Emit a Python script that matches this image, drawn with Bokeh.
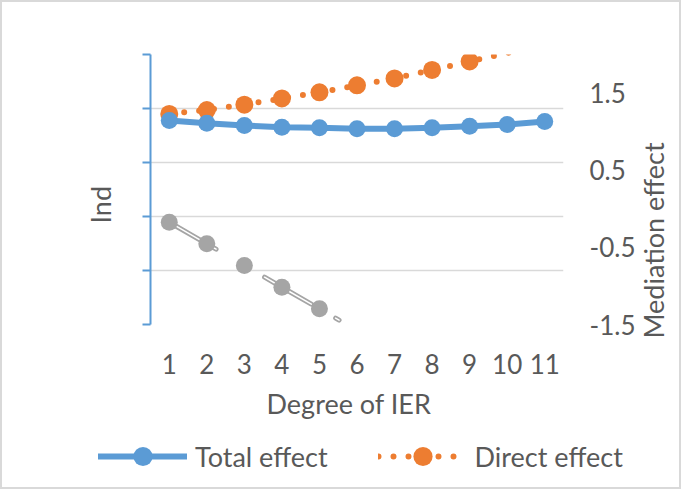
from math import pi
from bokeh.plotting import figure
from bokeh.layouts import column, row
from bokeh.models import (Range1d, LinearAxis, FixedTicker, Legend, LegendItem,
                          Title, ColumnDataSource, Grid)
from bokeh.core.properties import value
from bokeh.embed import file_html
from bokeh.resources import INLINE

# ---- data ----
degree = [1, 2, 3, 4, 5, 6, 7, 8, 9, 10, 11]
total_effect = [1.145, 1.11, 1.08, 1.058, 1.05, 1.037, 1.037, 1.05, 1.07, 1.093, 1.13]
direct_effect = [1.23, 1.28, 1.35, 1.43, 1.51, 1.60, 1.69, 1.80, 1.91, 2.02, 2.13]
ind_degree = [1, 2, 3, 4, 5, 6]
ind_values = [1.894, 1.494, 1.093, 0.69, 0.29, -0.11]

med_ticks = [-1.5, -0.5, 0.5, 1.5]
med_tick_labels = ["-1.5", "-0.5", "0.5", "1.5"]
ind_ticks = [0, 1, 2, 3, 4, 5]

MED_MIN, MED_MAX = -1.5, 2.0
IND_MIN, IND_MAX = 0, 5

BLUE = "#5B9BD5"
ORANGE = "#ED7D31"
GRAY = "#A5A5A5"
TXT = "#595959"
FONT = "Lato"
FS = "26px"
TFS = "27px"
BORDER = "2px solid #d9d9d9"
GRAY_DASH = "54 28 4 24"


def no_align(fig):
    try:
        fig.frame_align = False
    except Exception:
        pass


p = figure(width=636, height=430, output_backend="svg", toolbar_location=None,
           x_range=Range1d(0.5, 11.5), y_range=Range1d(IND_MIN, IND_MAX),
           min_border_left=148, min_border_right=73, min_border_top=52,
           min_border_bottom=108, x_axis_location=None, y_axis_location=None)
no_align(p)
p.styles = {"border-top": BORDER, "border-left": BORDER}
p.outline_line_color = None
p.background_fill_color = "white"
p.border_fill_color = "white"
p.extra_y_ranges = {"med": Range1d(MED_MIN, MED_MAX)}

# left (Ind) axis: line and ticks only
lax = LinearAxis(ticker=FixedTicker(ticks=ind_ticks))
lax.axis_line_color = BLUE
lax.axis_line_width = 2
lax.major_tick_line_color = BLUE
lax.major_tick_line_width = 2
lax.major_tick_out = 8
lax.major_tick_in = 0
lax.minor_tick_line_color = None
lax.major_label_overrides = {t: "" for t in ind_ticks}
lax.major_label_text_color = None
lax.major_label_standoff = 0
p.add_layout(lax, "left")
p.add_layout(Title(text="Ind", align="left", offset=101, standoff=52,
                   text_font=FONT, text_font_size=TFS, text_font_style="normal",
                   text_color=TXT), "left")

# right (mediation) axis: tick labels
rax = LinearAxis(y_range_name="med", ticker=FixedTicker(ticks=med_ticks))
rax.axis_line_color = None
rax.major_tick_line_color = None
rax.minor_tick_line_color = None
rax.major_tick_out = 0
rax.major_tick_in = 0
rax.major_label_standoff = 26
rax.major_label_overrides = dict(zip(med_ticks, med_tick_labels))
rax.major_label_text_font = FONT
rax.major_label_text_font_size = FS
rax.major_label_text_color = TXT
p.add_layout(rax, "right")

# bottom axis
bax = LinearAxis(ticker=FixedTicker(ticks=degree))
bax.axis_line_color = None
bax.major_tick_line_color = None
bax.minor_tick_line_color = None
bax.major_tick_out = 0
bax.major_tick_in = 0
bax.major_label_standoff = 29
bax.major_label_text_font = FONT
bax.major_label_text_font_size = FS
bax.major_label_text_color = TXT
p.add_layout(bax, "below")
p.add_layout(Title(text="Degree of IER", align="left", offset=116, standoff=16,
                   text_font=FONT, text_font_size=TFS, text_font_style="normal",
                   text_color=TXT), "below")

p.xgrid.grid_line_color = None
p.ygrid.grid_line_color = None
p.add_layout(Grid(dimension=1, ticker=FixedTicker(ticks=ind_ticks),
                  grid_line_color="#D9D9D9", grid_line_width=1.5))

# gray (Ind) series: double dash-dot line
ind_src = ColumnDataSource(dict(x=ind_degree, y=ind_values))
p.line("x", "y", source=ind_src, line_color=GRAY, line_width=5,
       line_dash=GRAY_DASH, line_cap="round", line_join="round")
p.line("x", "y", source=ind_src, line_color="white", line_width=1.5,
       line_dash=GRAY_DASH, line_cap="round", line_join="round")
ind_in = [(x, y) for x, y in zip(ind_degree, ind_values) if IND_MIN <= y <= IND_MAX]
p.scatter([a for a, _ in ind_in], [b for _, b in ind_in], size=17,
          fill_color=GRAY, line_color=None)

# direct effect (orange dotted)
DIR_STYLE = dict(line_color=ORANGE, line_width=6, line_dash="0 15", line_cap="round")
p.line(degree, direct_effect, y_range_name="med", **DIR_STYLE)
dir_in = [(x, y) for x, y in zip(degree, direct_effect) if MED_MIN <= y <= MED_MAX]
p.scatter([a for a, _ in dir_in], [b for _, b in dir_in], y_range_name="med",
          size=18, fill_color=ORANGE, line_color=None)

# total effect (blue solid)
TOT_STYLE = dict(line_color=BLUE, line_width=6, line_join="round", line_cap="round")
p.line(degree, total_effect, y_range_name="med", **TOT_STYLE)
p.scatter(degree, total_effect, y_range_name="med", size=17,
          fill_color=BLUE, line_color=None)

# ---- right strip: secondary axis title ----
rf = figure(width=45, height=430, output_backend="svg", toolbar_location=None,
            x_range=Range1d(0, 45), y_range=Range1d(430, 0),
            x_axis_location=None, y_axis_location=None, min_border=0,
            min_border_left=0, min_border_right=0, min_border_top=0,
            min_border_bottom=0)
no_align(rf)
rf.styles = {"border-top": BORDER, "border-right": BORDER}
rf.outline_line_color = None
rf.xgrid.grid_line_color = None
rf.ygrid.grid_line_color = None
rf.text(x=[17], y=[238], text=["Mediation effect"], angle=pi / 2,
        text_align="center", text_baseline="middle", text_font=value(FONT),
        text_font_size=TFS, text_color=TXT)

# ---- legend strip ----
lf = figure(width=681, height=59, output_backend="svg", toolbar_location=None,
            x_range=Range1d(0, 1), y_range=Range1d(0, 1),
            x_axis_location=None, y_axis_location=None, min_border=0,
            min_border_left=0, min_border_right=0, min_border_top=0,
            min_border_bottom=0)
no_align(lf)
lf.styles = {"border-bottom": BORDER, "border-left": BORDER, "border-right": BORDER}
lf.outline_line_color = None
lf.xgrid.grid_line_color = None
lf.ygrid.grid_line_color = None
lt_line = lf.line(degree, total_effect, visible=False, **TOT_STYLE)
lt_sc = lf.scatter(degree, total_effect, visible=False, fill_color=BLUE, line_color=None)
ld_line = lf.line(degree, direct_effect, visible=False, **DIR_STYLE)
ld_sc = lf.scatter(degree, direct_effect, visible=False, fill_color=ORANGE, line_color=None)
legend = Legend(items=[LegendItem(label="Total effect", renderers=[lt_line, lt_sc]),
                       LegendItem(label="Direct effect", renderers=[ld_line, ld_sc])],
                location=(96, 9), orientation="horizontal")
legend.glyph_width = 89
legend.glyph_height = 48
legend.label_standoff = 8
legend.spacing = 50
legend.padding = 0
legend.margin = 0
legend.border_line_color = None
legend.background_fill_alpha = 0
legend.inactive_fill_alpha = 0
legend.label_text_font = FONT
legend.label_text_font_size = TFS
legend.label_text_color = TXT
lf.add_layout(legend, "center")

layout = column(row(p, rf, spacing=0), lf, spacing=0)
open("out.html", "w").write(file_html(layout, INLINE))
